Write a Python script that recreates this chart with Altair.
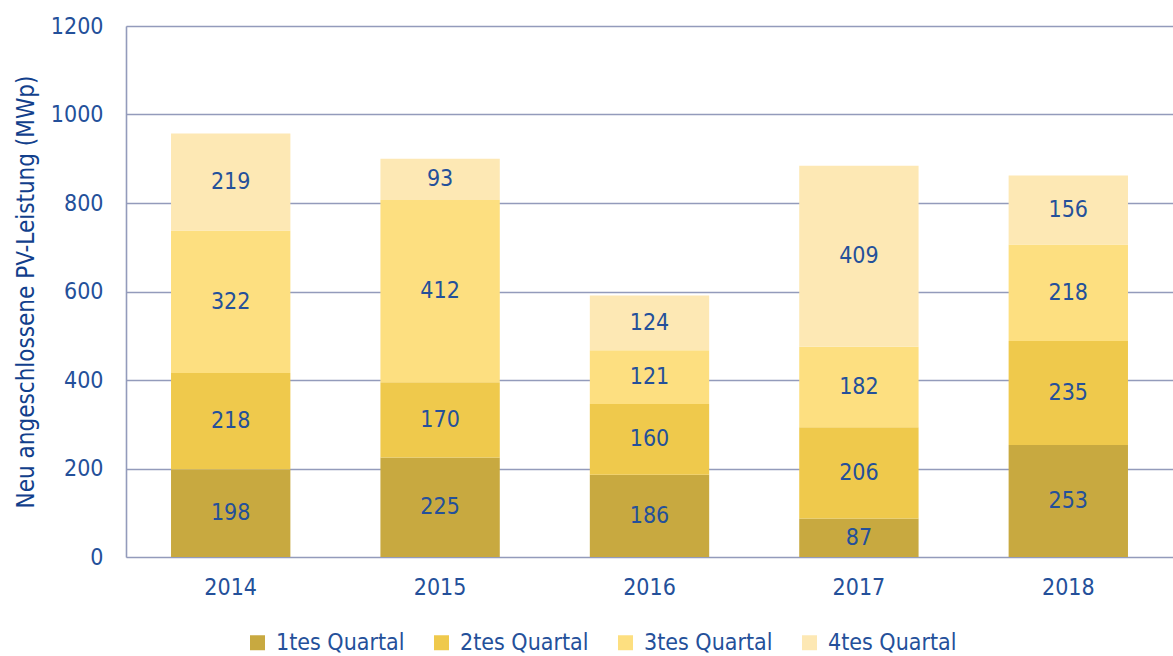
import altair as alt
import pandas as pd

years = ["2014", "2015", "2016", "2017", "2018"]
quarters = ["1tes Quartal", "2tes Quartal", "3tes Quartal", "4tes Quartal"]
q1 = [198, 225, 186, 87, 253]
q2 = [218, 170, 160, 206, 235]
q3 = [322, 412, 121, 182, 218]
q4 = [219, 93, 124, 409, 156]
colors = ["#c8a940", "#efc94c", "#fddf80", "#fde8b4"]

rows = []
for qi, (q, vals) in enumerate(zip(quarters, [q1, q2, q3, q4])):
    for y, v in zip(years, vals):
        rows.append({"Jahr": y, "Quartal": q, "qi": qi, "Wert": v})
df = pd.DataFrame(rows)

FONT = "DejaVu Sans Condensed, sans-serif"
TXT = "#24509a"

base = alt.Chart(df).transform_stack(
    stack="Wert", groupby=["Jahr"], as_=["y0", "y1"], sort=[alt.SortField("qi", order="ascending")]
).transform_calculate(mid="(datum.y0 + datum.y1) / 2")

x = alt.X("Jahr:N", title=None,
          scale=alt.Scale(paddingInner=0.43, paddingOuter=0.215),
          axis=alt.Axis(labelAngle=0, labelFont=FONT, labelFontSize=23, labelColor=TXT,
                        labelPadding=19, ticks=False, domain=False, grid=False))

bars = base.mark_bar().encode(
    x=x,
    y=alt.Y("y0:Q", title="Neu angeschlossene PV-Leistung (MWp)",
            scale=alt.Scale(domain=[0, 1200]),
            axis=alt.Axis(values=[0, 200, 400, 600, 800, 1000, 1200], ticks=False, format="d",
                          labelFont=FONT, labelFontSize=23, labelColor=TXT, labelPadding=23,
                          titleFont=FONT, titleFontSize=24, titleFontWeight="normal",
                          titleColor="#123f8c", titlePadding=12,
                          gridColor="#939bbb", gridWidth=1.6, gridOpacity=1,
                          domain=True, domainColor="#939bbb", domainWidth=1.6)),
    y2="y1:Q",
    color=alt.Color("Quartal:N", scale=alt.Scale(domain=quarters, range=colors),
                    legend=alt.Legend(title=None, orient="none", direction="horizontal",
                                      legendX=120, legendY=605,
                                      symbolType="square", symbolSize=225, symbolStrokeWidth=0,
                                      labelFont=FONT, labelFontSize=23, labelColor=TXT,
                                      columnPadding=25, symbolOffset=0, labelOffset=7)),
)

labels = base.mark_text(font=FONT, fontSize=23, color=TXT, baseline="middle").encode(
    x=alt.X("Jahr:N"),
    y=alt.Y("mid:Q"),
    text=alt.Text("Wert:Q"),
)

chart = alt.layer(bars, labels).properties(
    width=1047, height=531,
    autosize=alt.AutoSizeParams(type="none"),
    padding={"left": 126, "top": 26, "right": 0, "bottom": 99},
).configure_view(stroke=None).configure(background="white")

chart.save("out.html", embed_options={"renderer": "svg", "actions": False})
